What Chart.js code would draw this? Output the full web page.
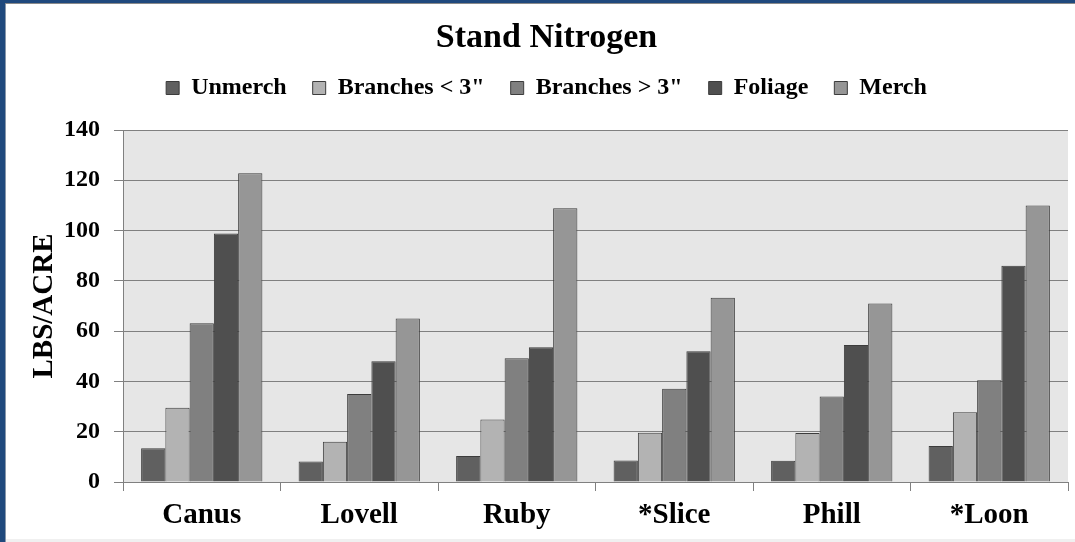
<!DOCTYPE html>
<html>
<head>
<meta charset="utf-8">
<title>Stand Nitrogen</title>
<script src="https://cdn.jsdelivr.net/npm/chart.js@4/dist/chart.umd.min.js"></script>
<style>
  html, body { margin: 0; padding: 0; background: #fff; }
  #wrap { position: relative; width: 1075px; height: 542px; overflow: hidden; background: #fff; }
  .blueL { position: absolute; left: 0; top: 0; width: 5px; height: 542px; background: #1f497d; }
  .blueT { position: absolute; left: 0; top: 0; width: 1075px; height: 3px; background: #1f497d; }
  .lineL { position: absolute; left: 5px; top: 3px; width: 1px; height: 539px; background: #8797ab; }
  .lineT { position: absolute; left: 5px; top: 3px; width: 1070px; height: 1px; background: #8a8a8a; }
  .lineB { position: absolute; left: 6px; top: 539px; width: 1069px; height: 3px; background: #f0f0f0; }
  #c { position: absolute; left: 0; top: 0; }
</style>
</head>
<body>
<div id="wrap">
  <div class="blueL"></div><div class="blueT"></div>
  <div class="lineL"></div><div class="lineT"></div><div class="lineB"></div>
  <canvas id="c" width="1075" height="542"></canvas>
</div>
<script>
const stands = ['Canus', 'Lovell', 'Ruby', '*Slice', 'Phill', '*Loon'];
const unmerch = [13.4, 8.2, 10.3, 8.6, 8.5, 14.3];
const branchesSmall = [29.5, 16.0, 24.9, 19.6, 19.5, 27.7];
const branchesLarge = [63.1, 35.0, 49.2, 37.1, 34.0, 40.5];
const foliage = [98.8, 48.0, 53.6, 52.0, 54.5, 86.0];
const merch = [122.8, 65.0, 108.9, 73.3, 71.0, 110.0];
const yTicks = [0, 20, 40, 60, 80, 100, 120, 140];

const serif = '"Liberation Serif", "Times New Roman", serif';
const edge = '#3c3c3c';

function series(label, data, color) {
    return { label, data, backgroundColor: color, borderColor: edge, borderWidth: 1 };
}

// plot background fill
const plotBg = {
    id: 'plotBg',
    beforeDraw(chart) {
        const a = chart.chartArea, ctx = chart.ctx;
        ctx.save();
        ctx.fillStyle = '#e6e6e6';
        ctx.fillRect(a.left, a.top, a.right - a.left, a.bottom - a.top);
        ctx.restore();
    }
};

// extra room under the legend
const legendGap = {
    id: 'legendGap',
    beforeLayout(chart) {
        const lg = chart.legend;
        if (lg && !lg._gapPatched) {
            const fit = lg.fit;
            lg.fit = function () { fit.call(this); this.height += 20; };
            lg._gapPatched = true;
        }
    }
};

new Chart(document.getElementById('c'), {
    type: 'bar',
    data: {
        labels: stands,
        datasets: [
            series('Unmerch', unmerch, '#606060'),
            series('Branches < 3"', branchesSmall, '#b3b3b3'),
            series('Branches > 3"', branchesLarge, '#808080'),
            series('Foliage', foliage, '#4f4f4f'),
            series('Merch', merch, '#969696')
        ]
    },
    options: {
        responsive: false,
        animation: false,
        layout: { padding: { left: 25, right: 7, top: 0, bottom: 0 } },
        datasets: { bar: { barPercentage: 1, categoryPercentage: 0.77 } },
        plugins: {
            title: {
                display: true,
                text: 'Stand Nitrogen',
                color: '#000',
                font: { family: serif, size: 34, weight: 'bold', lineHeight: 1 },
                padding: { top: 21, bottom: -5 }
            },
            legend: {
                position: 'top',
                labels: {
                    color: '#000',
                    font: { family: serif, size: 24, weight: 'bold' },
                    boxWidth: 13,
                    boxHeight: 13,
                    padding: 26
                }
            },
            tooltip: { enabled: false }
        },
        scales: {
            x: {
                afterFit(s) { s.height = 60; },
                grid: { drawOnChartArea: false, tickLength: 9, color: '#808080', offset: true },
                border: { color: '#808080', width: 1 },
                ticks: {
                    color: '#000',
                    padding: 7,
                    font: { family: serif, size: 29, weight: 'bold' }
                }
            },
            y: {
                min: 0,
                max: 140,
                afterFit(s) { s.width = 98; },
                afterBuildTicks(s) { s.ticks = yTicks.map(v => ({ value: v })); },
                grid: { color: '#808080', tickLength: 9 },
                border: { color: '#808080', width: 1 },
                ticks: {
                    color: '#000',
                    padding: 14,
                    font: { family: serif, size: 24, weight: 'bold' }
                },
                title: {
                    display: true,
                    text: 'LBS/ACRE',
                    color: '#000',
                    padding: { top: 2, bottom: 0 },
                    font: { family: serif, size: 29, weight: 'bold' }
                }
            }
        }
    },
    plugins: [plotBg, legendGap]
});
</script>
</body>
</html>
